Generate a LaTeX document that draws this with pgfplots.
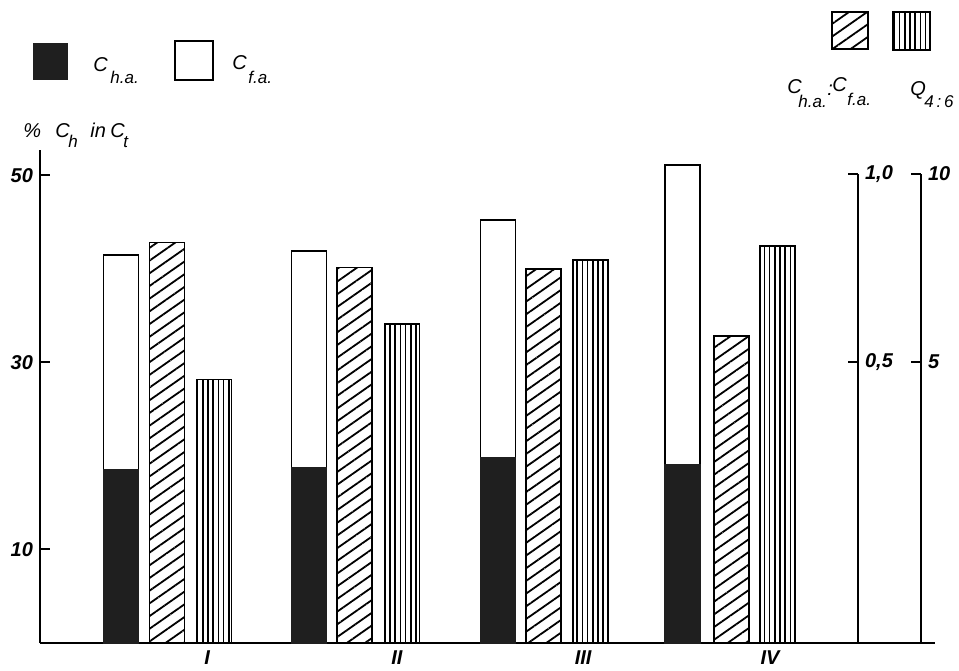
\documentclass[border=0pt]{standalone}
\usepackage{pgfplots}
\pgfplotsset{compat=1.18}
\usepackage{fontspec}
\setmainfont{Liberation Sans}
\usetikzlibrary{patterns.meta}
\tikzset{
  hatchA/.style={pattern={Lines[angle=35,distance=5.2pt,line width=0.9pt]},pattern color=black,draw=black,line width=0.8pt},
  hatchB/.style={pattern={Lines[angle=90,distance=2.6pt,line width=0.8pt]},pattern color=black,draw=black,line width=0.8pt},
  subl/.style={font=\fontsize{8.5}{10}\selectfont\itshape},
}
\pgfplotsset{
  ticklab/.style={font=\fontsize{10}{11}\selectfont\bfseries\itshape},
}
\begin{document}
\begin{tikzpicture}[x=1pt,y=1pt]
\useasboundingbox (0pt,0pt) rectangle (479.5pt,335pt);
% main axis
\begin{axis}[
  at={(20pt,13.5pt)}, anchor=south west, scale only axis,
  width=447.5pt, height=246.5pt,
  xmin=0.324, xmax=5.085, ymin=0, ymax=52.7,
  axis x line*=bottom, axis y line*=left,
  axis line style={line width=1pt, -},
  xtick={1.213,2.223,3.213,4.207}, xticklabels={I,II,III,IV},
  x tick style={draw=none},
  xticklabel style={yshift=4.5pt},
  ytick={10,30,50},
  tick align=inside, major tick length=5pt,
  y tick style={line width=1pt, black},
  tick label style={ticklab},
  /pgf/number format/assume math mode=true,
  ybar, bar width=0.186,
  clip=false,
]
% C_t total (white part = C_f.a.)
\addplot[bar shift=0pt, fill=white, draw=black, line width=0.8pt]
  coordinates {(0.755,41.5) (1.755,41.9) (2.761,45.2) (3.742,51.1)};
% C_h.a.
\addplot[bar shift=0pt, fill=black!88, draw=black!88, line width=0.8pt]
  coordinates {(0.755,18.5) (1.755,18.7) (2.761,19.75) (3.742,19.1)};
% C_h.a. : C_f.a. (right axis 0..1, mapped to left units)
\addplot[bar shift=0pt, hatchA, y filter/.expression={10+40*y}]
  coordinates {(1.0,0.82) (1.997,0.753) (3.003,0.749) (4.003,0.571)};
% Q4:6 (right axis 0..10)
\addplot[bar shift=0pt, hatchB, y filter/.expression={10+4*y}]
  coordinates {(1.25,4.54) (2.25,6.02) (3.253,7.73) (4.247,8.11)};
\end{axis}
% ratio axis
\begin{axis}[
  at={(20pt,13.5pt)}, anchor=south west, scale only axis,
  width=409pt, height=234.5pt,
  xmin=0, xmax=1, ymin=-0.25, ymax=1,
  axis x line=none, axis y line*=right,
  axis line style={line width=1pt, -},
  xtick=\empty,
  ytick={0.5,1}, yticklabels={{0,5},{1,0}},
  tick align=inside, major tick length=5pt,
  y tick style={line width=1pt, black},
  tick label style={ticklab},
]
\addplot[draw=none, forget plot] coordinates {(0.5,0.5)};
\end{axis}
% Q axis
\begin{axis}[
  at={(20pt,13.5pt)}, anchor=south west, scale only axis,
  width=440.5pt, height=234.5pt,
  xmin=0, xmax=1, ymin=-2.5, ymax=10,
  axis x line=none, axis y line*=right,
  axis line style={line width=1pt, -},
  xtick=\empty,
  ytick={5,10}, yticklabels={5,10},
  tick align=inside, major tick length=5pt,
  y tick style={line width=1pt, black},
  tick label style={ticklab},
]
\addplot[draw=none, forget plot] coordinates {(0.5,5)};
\end{axis}
% legend top left
\fill[black!88] (16.5pt,295pt) rectangle (34pt,313.5pt);
\draw[line width=1pt] (87.5pt,295pt) rectangle (106.5pt,314.5pt);
\begin{scope}[every node/.style={inner sep=0pt, font=\fontsize{10}{11}\selectfont\itshape}]
\node[anchor=base west] at (46.5pt,299pt) {C};
\node[anchor=base west, subl] at (55pt,293pt) {h.a.};
\node[anchor=base west] at (116pt,300pt) {C};
\node[anchor=base west, subl] at (124pt,293pt) {f.a.};
% legend top right
\node[anchor=base west] at (393.5pt,288pt) {C};
\node[anchor=base west, subl] at (399pt,281pt) {h.a.};
\node[anchor=base west] at (413.5pt,287pt) {:};
\node[anchor=base west] at (416pt,289pt) {C};
\node[anchor=base west, subl] at (423.5pt,282pt) {f.a.};
\node[anchor=base west] at (455pt,287pt) {Q};
\node[anchor=base west, subl] at (462pt,281pt) {4\,:\,6};
% y-axis title
\node[anchor=base west] at (11.5pt,266pt) {\%};
\node[anchor=base west] at (27.5pt,266pt) {C};
\node[anchor=base west, subl] at (34pt,261pt) {h};
\node[anchor=base west] at (45pt,266pt) {in};
\node[anchor=base west] at (55pt,266pt) {C};
\node[anchor=base west, subl] at (61.5pt,261pt) {t};
\end{scope}
\draw[hatchA] (416pt,310.5pt) rectangle (434pt,329pt);
\draw[hatchB] (446.5pt,310pt) rectangle (465pt,329pt);
\end{tikzpicture}
\end{document}
